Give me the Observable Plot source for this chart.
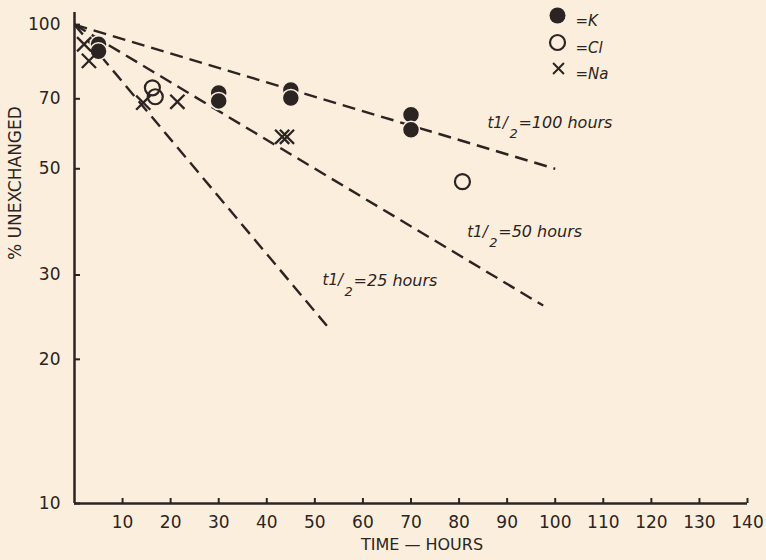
<!DOCTYPE html>
<html><head><meta charset="utf-8">
<script src="https://cdn.jsdelivr.net/npm/d3@7"></script>
<script src="https://cdn.jsdelivr.net/npm/@observablehq/plot@0.6"></script>
<style>
html,body{margin:0;padding:0;background:#fbeedc;}
#chart{position:relative;width:766px;height:560px;}
</style></head><body><div id="chart"></div>
<script>
// ---- data ----
const xTicks = [10,20,30,40,50,60,70,80,90,100,110,120,130,140];
const yTicks = [10,20,30,50,70,100];

const kTime  = [5, 5, 30, 30, 45, 45, 70, 70];
const kValue = [91, 88, 72, 69.3, 73, 70.3, 64.8, 60.3];

const clTime  = [16.2, 16.8, 80.7];
const clValue = [73.8, 70.7, 47];

const naTime  = [2, 3, 14.3, 21.4, 43.2, 44.2];
const naValue = [91, 84, 68.7, 69, 58.3, 58.3];

const halfLife      = ["100", "50", "25"];
const lineStartTime = [0, 0, 0];
const lineStartVal  = [100, 100, 100];
const lineEndTime   = [100, 97.5, 52.5];
const lineEndVal    = [50, 25.9, 23.5];
const labelTime     = [85.9, 81.7, 51.6];
const labelVal      = [62.3, 36.9, 29.2];

const legendLabels = ["=K", "=Cl", "=Na"];

// ---- build tables ----
const ink = "#2b2422";
const bg = "#fbeedc";
const K = kTime.map((t,i)=>({t, v:kValue[i]}));
const Cl = clTime.map((t,i)=>({t, v:clValue[i]}));
const Na = naTime.map((t,i)=>({t, v:naValue[i]}));
const lines = halfLife.map((h,i)=>({h, x1:lineStartTime[i], y1:lineStartVal[i], x2:lineEndTime[i], y2:lineEndVal[i], lx:labelTime[i], ly:labelVal[i]}));

const italic = {fontStyle:"italic", fontSize:16, fill:ink, textAnchor:"start"};

const chart = Plot.plot({
  width: 766, height: 560,
  marginLeft: 74, marginRight: 19, marginTop: 12, marginBottom: 57,
  style: {background: "transparent", color: ink, fontFamily: "DejaVu Sans", fontSize: "17px"},
  x: {domain: [0, 140]},
  y: {type: "log", domain: [10, 106]},
  marks: [
    Plot.axisX({ticks: xTicks, tickSize: -5, tickPadding: 17, tickFormat: d => String(d), label: null, stroke: ink, strokeWidth: 2, fontSize: 17}),
    Plot.axisY({ticks: yTicks, tickSize: -6, tickPadding: 20, tickFormat: d => String(d), label: null, stroke: ink, strokeWidth: 2, fontSize: 17}),
    Plot.ruleY([10], {stroke: ink, strokeWidth: 2.5}),
    Plot.ruleX([0], {stroke: ink, strokeWidth: 2.5}),
    Plot.link(lines, {x1:"x1", y1:"y1", x2:"x2", y2:"y2", stroke: ink, strokeWidth: 2.4, strokeDasharray: "13,7"}),
    Plot.text(lines, {x:"lx", y:"ly", text: d => "t1/", ...italic, fontSize: 15}),
    Plot.text(lines, {x:"lx", y:"ly", text: d => "2", ...italic, fontSize: 13, dx: 22, dy: 11}),
    Plot.text(lines, {x:"lx", y:"ly", text: d => "=" + d.h + " hours", ...italic, dx: 31}),
    Plot.dot(K, {x:"t", y:"v", r: 8.5, fill: ink, stroke: bg, strokeWidth: 1.5}),
    Plot.dot(Cl, {x:"t", y:"v", r: 7.5, fill: "none", stroke: ink, strokeWidth: 2.2}),
    Plot.dot(Na, {x:"t", y:"v", r: 6.5, symbol: "times", stroke: ink, strokeWidth: 2.3}),
    // legend
    Plot.dot([legendLabels[0]], {frameAnchor: "top-left", dx: 483, dy: 3, r: 8, fill: ink}),
    Plot.dot([legendLabels[1]], {frameAnchor: "top-left", dx: 483, dy: 30, r: 7.5, fill: "none", stroke: ink, strokeWidth: 2.2}),
    Plot.dot([legendLabels[2]], {frameAnchor: "top-left", dx: 484, dy: 56, r: 5, symbol: "times", stroke: ink, strokeWidth: 2}),
    Plot.text([legendLabels[0]], {frameAnchor: "top-left", dx: 501, dy: 3, text: d => d, ...italic, fontSize: 15}),
    Plot.text([legendLabels[1]], {frameAnchor: "top-left", dx: 501, dy: 30, text: d => d, ...italic, fontSize: 15}),
    Plot.text([legendLabels[2]], {frameAnchor: "top-left", dx: 501, dy: 56, text: d => d, ...italic, fontSize: 15}),
    // axis titles
    Plot.text(["% UNEXCHANGED"], {frameAnchor: "left", rotate: -90, dx: -59, dy: 2, text: d => d, fontSize: 17, fill: ink}),
    Plot.text(["TIME — HOURS"], {frameAnchor: "bottom", dx: 11, dy: 46, text: d => d, fontSize: 16, fill: ink})
  ]
});
document.getElementById("chart").appendChild(chart);
</script>
</body></html>
